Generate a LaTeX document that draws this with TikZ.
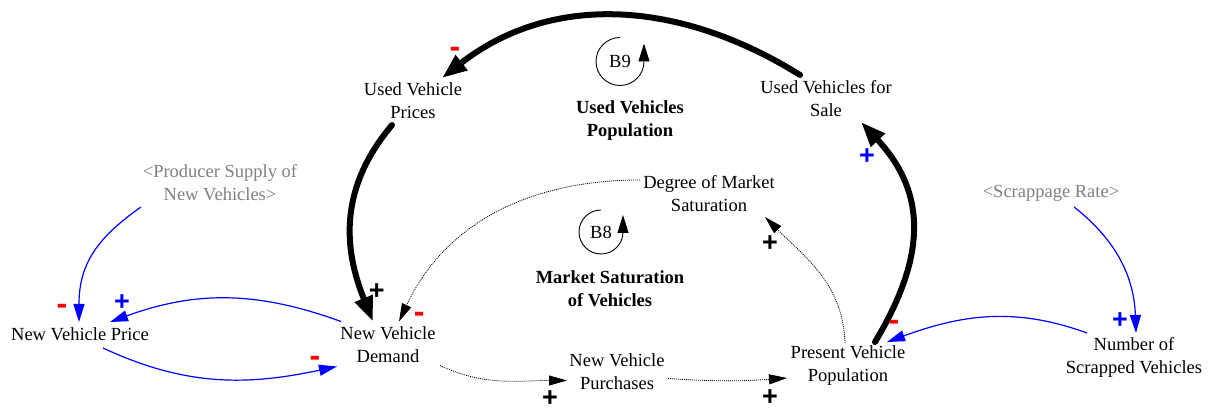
\documentclass[tikz,border=0pt]{standalone}
\usepackage{fontspec}
\setmainfont{Liberation Serif}
\newfontfamily\signfont{Liberation Sans}
\usepackage{tikz}
\usetikzlibrary{positioning,arrows.meta}

\tikzset{
  var/.style={align=center,inner sep=2pt,font=\fontsize{18.5}{23}\selectfont},
  shadowvar/.style={var,text=gray},
  looptitle/.style={var,font=\fontsize{18.5}{23}\selectfont\bfseries},
  major/.style={line width=6pt,line cap=round,-{Triangle[length=25pt,width=18pt]}},
  link/.style={blue,line width=1.2pt,-{Triangle[length=18pt,width=11pt]}},
  flow/.style={dash pattern=on 1pt off 1pt,line width=0.8pt,-{Triangle[length=18pt,width=10pt]}},
  loopturn/.style={line width=0.9pt,-{Triangle[length=18pt,width=11pt]}},
  possign/.style={inner sep=0pt,font=\signfont\bfseries\fontsize{27}{27}\selectfont},
  negsign/.style={inner sep=0pt,text=red,font=\signfont\bfseries\fontsize{32}{32}\selectfont}
}

\begin{document}
\begin{tikzpicture}
\useasboundingbox (0pt,0pt) rectangle (1209pt,411pt);

\node[var] (used_prices) at (413pt, 310pt) {Used Vehicle\\Prices};
\node[var] (used_sale) at (826pt, 312.5pt) {Used Vehicles for\\Sale};
\node[looptitle] (title_b9) at (630pt, 290pt) {Used Vehicles\\Population};
\node[var] (loop_b9) at (620pt, 349.5pt) {B9};
\node[var] (degree) at (709pt, 217pt) {Degree of Market\\Saturation};
\node[var] (loop_b8) at (601pt, 179pt) {B8};
\node[looptitle] (title_b8) at (610pt, 122pt) {Market Saturation\\of Vehicles};
\node[shadowvar] (producer) at (220pt, 228pt) {<Producer Supply of\\New Vehicles>};
\node[shadowvar] (scrappage) at (1051pt, 218pt) {<Scrappage Rate>};
\node[var] (price) at (80pt, 77pt) {New Vehicle Price};
\node[var] (demand) at (388pt, 66.5pt) {New Vehicle\\Demand};
\node[var] (purchases) at (617pt, 39.5pt) {New Vehicle\\Purchases};
\node[var] (present) at (848pt, 45pt) {Present Vehicle\\Population};
\node[var] (scrapped) at (1134pt, 54pt) {Number of\\Scrapped Vehicles};

\draw[loopturn] (loop_b9.center) ++(90:24pt) arc (90:360:24pt) -- ++(0pt,18pt);
\draw[loopturn] (loop_b8.center) ++(90:22pt) arc (90:360:22pt) -- ++(0pt,17pt);

\draw[major] ([shift={(-26pt,23.5pt)}]used_sale.center) to[out=148,in=38] ([shift={(29pt,23pt)}]used_prices.center);
\draw[major] ([shift={(-21pt,-24pt)}]used_prices.center) to[out=230,in=112,looseness=1.05] ([shift={(-15pt,23pt)}]demand.center);
\draw[major] ([shift={(27pt,24pt)}]present.center) to[out=59,in=-47,looseness=1.14] ([shift={(35pt,-23.5pt)}]used_sale.center);

\draw[flow] ([shift={(-3pt,23pt)}]present.center) to[out=92,in=-45] ([shift={(56pt,-23pt)}]degree.center);
\draw[flow] ([shift={(-69pt,14pt)}]degree.center) to[out=180,in=65] ([shift={(11pt,23pt)}]demand.center);
\draw[flow] ([shift={(52pt,-21pt)}]demand.center) to[out=-25,in=180] ([shift={(-50pt,-9pt)}]purchases.center);
\draw[flow] ([shift={(51pt,-7pt)}]purchases.center) to[bend right=4] ([shift={(-61pt,-12pt)}]present.center);

\draw[link] ([shift={(-47pt,23pt)}]demand.center) to[out=160,in=20] ([shift={(30pt,12pt)}]price.center);
\draw[link] ([shift={(23pt,-14pt)}]price.center) to[out=-25,in=192] ([shift={(-51pt,-22pt)}]demand.center);
\draw[link] ([shift={(-79pt,-24pt)}]producer.center) to[out=215,in=90,looseness=1.1] ([shift={(-1pt,12pt)}]price.center);
\draw[link] ([shift={(23pt,-14pt)}]scrappage.center) to[out=-38,in=92] ([shift={(2pt,24pt)}]scrapped.center);
\draw[link] ([shift={(-47pt,24pt)}]scrapped.center) to[out=160,in=20] ([shift={(39pt,24pt)}]present.center);

\node[negsign] (sign_a) at (455pt, 359pt) {-};
\node[possign] (sign_b) at (376.7pt, 119.3pt) {+};
\node[possign,text=blue] (sign_c) at (867pt, 254pt) {+};
\node[possign] (sign_d) at (770pt, 167pt) {+};
\node[negsign] (sign_e) at (419.3pt, 93.7pt) {-};
\node[possign] (sign_f) at (550pt, 12.5pt) {+};
\node[possign] (sign_g) at (770pt, 13.5pt) {+};
\node[possign,text=blue] (sign_h) at (122pt, 108pt) {+};
\node[negsign] (sign_i) at (315pt, 50pt) {-};
\node[negsign] (sign_j) at (62pt, 102pt) {-};
\node[possign,text=blue] (sign_k) at (1120pt, 90pt) {+};
\node[negsign] (sign_l) at (894pt, 86pt) {-};
\end{tikzpicture}
\end{document}
